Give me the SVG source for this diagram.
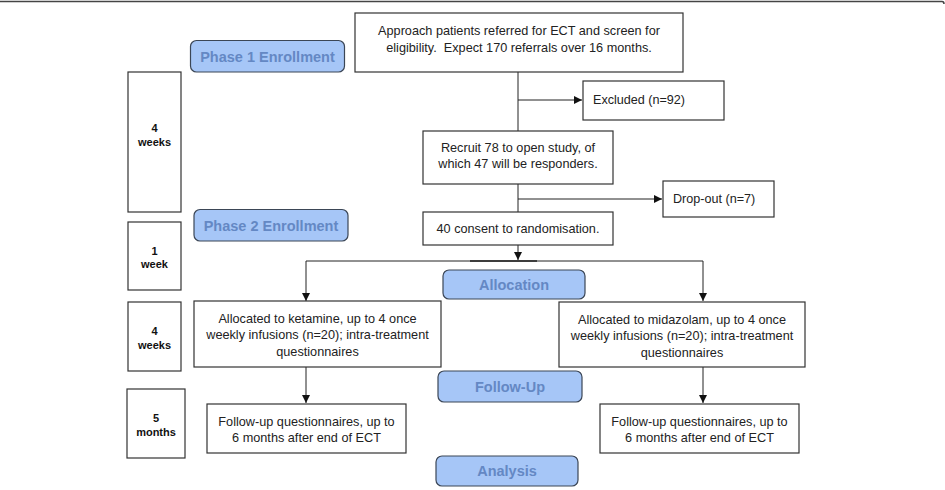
<svg xmlns="http://www.w3.org/2000/svg" width="945" height="490" viewBox="0 0 945 490">
<style>
.box{fill:#fff;stroke:#333;stroke-width:1.2}
.ph{fill:#a6c6f7;stroke:#3b4656;stroke-width:1.2}
.pt{font-family:"Liberation Sans",Arial,sans-serif;font-size:14.5px;font-weight:bold;fill:#6488c4;text-anchor:middle}
.t{font-family:"Liberation Sans",Arial,sans-serif;font-size:12.7px;fill:#222;text-anchor:middle}
.tl{font-family:"Liberation Sans",Arial,sans-serif;font-size:12.6px;fill:#222}
.w{font-family:"Liberation Sans",Arial,sans-serif;font-size:11px;font-weight:bold;fill:#111;text-anchor:middle}
.ln{fill:none;stroke:#222;stroke-width:1}
</style>
<defs>
<marker id="ah" markerWidth="8" markerHeight="8" refX="8" refY="4" orient="auto" markerUnits="userSpaceOnUse">
<path d="M0,0 L8,4 L0,8 z" fill="#111"/>
</marker>
</defs>
<rect width="945" height="490" fill="#fff"/>
<path d="M0,1.5 H942 Q944,1.5 944,4" fill="none" stroke="#444" stroke-width="1.5"/>

<g id="connectors">
<path class="ln" d="M518,72 V212"/>
<path class="ln" d="M518,100 H582" marker-end="url(#ah)"/>
<path class="ln" d="M518,199 H662" marker-end="url(#ah)"/>
<path class="ln" d="M518,245 V260" marker-end="url(#ah)"/>
<path class="ln" d="M306,261 H703"/>
<path d="M470,261 H537" stroke="#222" stroke-width="1.6"/>
<path class="ln" d="M306,261 V301" marker-end="url(#ah)"/>
<path class="ln" d="M703,261 V301" marker-end="url(#ah)"/>
<path class="ln" d="M306,367 V403" marker-end="url(#ah)"/>
<path class="ln" d="M703,367 V403" marker-end="url(#ah)"/>
</g>

<g id="phase1"><rect class="ph" x="190.5" y="40.5" width="154" height="31.5" rx="6"/><text class="pt" x="267.5" y="61.5">Phase 1 Enrollment</text></g>
<g id="phase2"><rect class="ph" x="194" y="209.5" width="154" height="31.5" rx="6"/><text class="pt" x="271" y="231">Phase 2 Enrollment</text></g>
<g id="allocation"><rect class="ph" x="443" y="270" width="142" height="29" rx="6"/><text class="pt" x="514" y="290">Allocation</text></g>
<g id="followup"><rect class="ph" x="438" y="371" width="144" height="31" rx="6"/><text class="pt" x="510" y="392">Follow-Up</text></g>
<g id="analysis"><rect class="ph" x="436" y="456" width="142" height="30" rx="6"/><text class="pt" x="507" y="476">Analysis</text></g>

<g id="w1"><rect class="box" x="128" y="72" width="53" height="140"/><text class="w" x="154.5" y="132">4</text><text class="w" x="154.5" y="146">weeks</text></g>
<g id="w2"><rect class="box" x="128" y="222" width="53" height="68"/><text class="w" x="154.5" y="255">1</text><text class="w" x="154.5" y="268">week</text></g>
<g id="w3"><rect class="box" x="128" y="302" width="53" height="69"/><text class="w" x="154.5" y="335">4</text><text class="w" x="154.5" y="349">weeks</text></g>
<g id="w4"><rect class="box" x="127" y="389" width="58" height="69"/><text class="w" x="156" y="422">5</text><text class="w" x="156" y="436">months</text></g>

<g id="approach"><rect class="box" x="355" y="13" width="328" height="59"/><text class="t" x="519" y="35">Approach patients referred for ECT and screen for</text><text class="t" x="519" y="52">eligibility.&#160; Expect 170 referrals over 16 months.</text></g>
<g id="excluded"><rect class="box" x="583" y="81" width="141" height="39"/><text class="tl" x="593" y="104">Excluded (n=92)</text></g>
<g id="recruit"><rect class="box" x="423" y="131" width="190" height="53"/><text class="t" x="518" y="152">Recruit 78 to open study, of</text><text class="t" x="518" y="168">which 47 will be responders.</text></g>
<g id="dropout"><rect class="box" x="663" y="181" width="111" height="36"/><text class="tl" x="673" y="203">Drop-out (n=7)</text></g>
<g id="consent"><rect class="box" x="423" y="212" width="190" height="33"/><text class="t" x="518" y="233">40 consent to randomisation.</text></g>
<g id="ketamine"><rect class="box" x="194" y="301" width="247" height="66"/><text class="t" x="317.5" y="323">Allocated to ketamine, up to 4 once</text><text class="t" x="317.5" y="339">weekly infusions (n=20); intra-treatment</text><text class="t" x="317.5" y="356">questionnaires</text></g>
<g id="midazolam"><rect class="box" x="559" y="302" width="246" height="65"/><text class="t" x="682" y="324">Allocated to midazolam, up to 4 once</text><text class="t" x="682" y="340">weekly infusions (n=20); intra-treatment</text><text class="t" x="682" y="357">questionnaires</text></g>
<g id="fu1"><rect class="box" x="207" y="404" width="199" height="49"/><text class="t" x="306.5" y="426">Follow-up questionnaires, up to</text><text class="t" x="306.5" y="442">6 months after end of ECT</text></g>
<g id="fu2"><rect class="box" x="600" y="404" width="199" height="49"/><text class="t" x="699.5" y="426">Follow-up questionnaires, up to</text><text class="t" x="699.5" y="442">6 months after end of ECT</text></g>
</svg>
